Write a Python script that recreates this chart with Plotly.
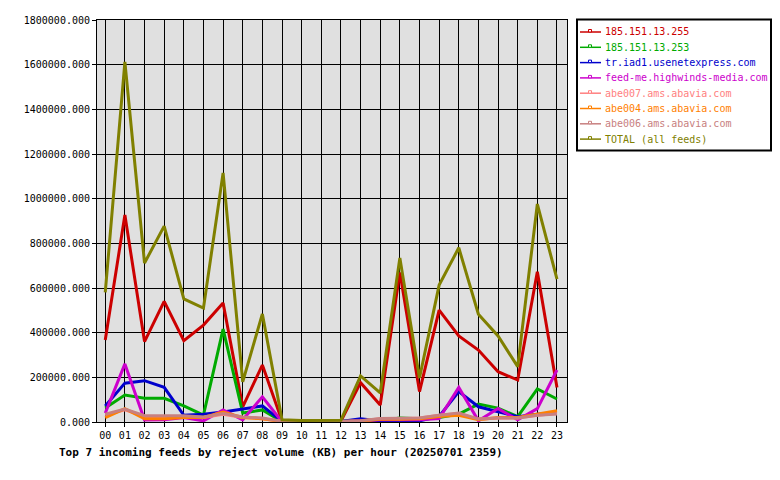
import plotly.graph_objects as go

hours = [f"{h:02d}" for h in range(24)]

names = ["185.151.13.255", "185.151.13.253", "tr.iad1.usenetexpress.com",
         "feed-me.highwinds-media.com", "abe007.ams.abavia.com",
         "abe004.ams.abavia.com", "abe006.ams.abavia.com", "TOTAL (all feeds)"]
colors = ["#cc0000", "#00aa00", "#0000cc", "#cc00cc", "#ff8080", "#ff8000", "#c88080", "#808000"]

s_255 = [367000, 927000, 360000, 540000, 364000, 434000, 533000, 68000, 255000, 5000, 3000, 4000,
         4000, 176000, 76000, 670000, 136000, 501000, 385000, 322000, 225000, 188000, 673000, 155000]
s_253 = [63000, 121000, 106000, 106000, 72000, 31000, 416000, 40000, 54000, 2000, 2000, 2000,
         3000, 8000, 6000, 18000, 15000, 20000, 35000, 80000, 62000, 24000, 148000, 103000]
s_usenetexp = [72000, 174000, 185000, 155000, 30000, 35000, 45000, 58000, 72000, 2000, 1000, 1000,
               2000, 15000, 5000, 5000, 5000, 25000, 136000, 68000, 46000, 24000, 35000, 40000]
s_highwinds = [40000, 260000, 9000, 10000, 20000, 5000, 54000, 10000, 113000, 1000, 1000, 1000,
               1000, 5000, 10000, 10000, 10000, 15000, 155000, 5000, 60000, 10000, 60000, 233000]
s_abe007 = [30000, 55000, 25000, 25000, 25000, 20000, 35000, 20000, 15000, 2000, 1000, 1000,
            2000, 5000, 15000, 15000, 18000, 30000, 38000, 12000, 18000, 18000, 30000, 38000]
s_abe004 = [20000, 60000, 15000, 15000, 20000, 20000, 45000, 20000, 15000, 2000, 1000, 1000,
            2000, 5000, 12000, 12000, 15000, 25000, 30000, 10000, 20000, 20000, 35000, 50000]
s_abe006 = [35000, 58000, 28000, 28000, 28000, 22000, 38000, 22000, 18000, 3000, 1000, 1000,
            2000, 6000, 16000, 16000, 18000, 30000, 40000, 14000, 18000, 18000, 30000, 36000]
s_total = [580000, 1612000, 712000, 877000, 551000, 510000, 1115000, 180000, 484000, 10000, 7000, 8000,
           8000, 206000, 130000, 734000, 197000, 613000, 780000, 483000, 385000, 248000, 976000, 640000]

series = [s_255, s_253, s_usenetexp, s_highwinds, s_abe007, s_abe004, s_abe006, s_total]

ytick_vals = list(range(0, 1800001, 200000))
ytick_text = [f"{v}.000" for v in ytick_vals]

W, H = 780, 480
ML, MR, MT, MB = 97, 213, 20, 58
PW, PH = W - ML - MR, H - MT - MB


def px(x):
    return (x - ML) / PW


def py(y):
    return (H - MB - y) / PH


fig = go.Figure()
for name, col, vals in zip(names, colors, series):
    fig.add_trace(go.Scatter(
        x=list(range(24)), y=vals, mode="lines", name=name,
        line=dict(color=col, width=3), showlegend=False,
    ))

font_mono = "DejaVu Sans Mono, Liberation Mono, monospace"

# Custom legend (box, line samples, labels)
shapes = [dict(type="rect", xref="paper", yref="paper",
               x0=px(577), x1=px(771), y0=py(19.5), y1=py(150.5),
               line=dict(color="black", width=2), fillcolor="white", layer="above")]
annotations = []
row0, rowh = 32, 15.3
for i, (name, col) in enumerate(zip(names, colors)):
    yy = row0 + i * rowh
    shapes.append(dict(type="line", xref="paper", yref="paper",
                       x0=px(580), x1=px(601), y0=py(yy), y1=py(yy),
                       line=dict(color=col, width=1.5), layer="above"))
    shapes.append(dict(type="rect", xref="paper", yref="paper",
                       x0=px(588.5), x1=px(591.5), y0=py(yy - 2.5), y1=py(yy),
                       line=dict(color=col, width=1), fillcolor="white", layer="above"))
    annotations.append(dict(text=name, xref="paper", yref="paper",
                            x=px(603), y=py(yy), xanchor="left", yanchor="middle",
                            showarrow=False,
                            font=dict(family=font_mono, size=10, color=col)))

annotations.append(dict(
    text="<b>Top 7 incoming feeds by reject volume (KB) per hour (20250701 2359)</b>",
    xref="paper", yref="paper", x=px(57), y=py(452),
    xanchor="left", yanchor="middle", showarrow=False,
    font=dict(family=font_mono, size=11, color="black"),
))

fig.update_layout(
    width=W, height=H,
    margin=dict(l=ML, r=MR, t=MT, b=MB, autoexpand=False),
    paper_bgcolor="white",
    plot_bgcolor="#e0e0e0",
    font=dict(family=font_mono, size=10, color="black"),
    showlegend=False,
    xaxis=dict(
        range=[-0.42, 23.51],
        tickmode="array", tickvals=list(range(24)), ticktext=hours,
        showgrid=True, gridcolor="black", gridwidth=1,
        showline=True, linecolor="black", linewidth=1, mirror=True,
        ticks="outside", ticklen=4, tickcolor="black",
        zeroline=False,
        tickfont=dict(family=font_mono, size=10),
    ),
    yaxis=dict(
        range=[0, 1800000],
        tickmode="array", tickvals=ytick_vals, ticktext=ytick_text,
        showgrid=True, gridcolor="black", gridwidth=1,
        showline=True, linecolor="black", linewidth=1, mirror=True,
        ticks="outside", ticklen=4, tickcolor="black",
        zeroline=False,
        tickfont=dict(family=font_mono, size=10),
    ),
    shapes=shapes,
    annotations=annotations,
)

fig.write_html("out.html")
